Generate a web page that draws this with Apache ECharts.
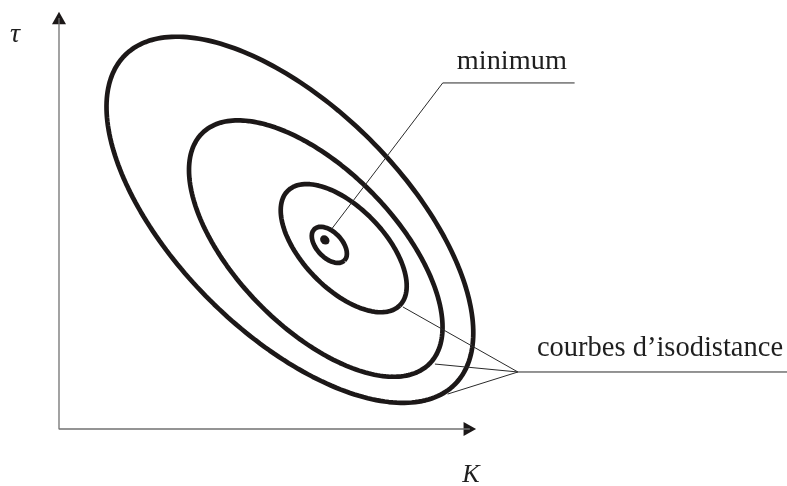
<!DOCTYPE html>
<html>
<head>
<meta charset="utf-8">
<script src="https://cdn.jsdelivr.net/npm/echarts@6/dist/echarts.min.js"></script>
<style>
  html, body { margin: 0; padding: 0; background: #fff; }
  #chart { width: 787px; height: 486px; }
</style>
</head>
<body>
<div id="chart"></div>
<script>
// Iso-distance contours around the (K, tau) minimum, in axis units.
const contourNames = ['c1', 'c2', 'c3', 'c4'];
const centerK   = [5.62, 6.25, 6.93, 6.58];
const centerTau = [5.09, 4.39, 4.40, 4.48];
const semiMajor = [5.67, 3.94, 1.95, 0.53];
const semiMinor = [2.76, 1.93, 0.99, 0.31];
const tiltDeg   = [-44.9, -45.5, -45.8, -46.7];

// Location of the minimum
const minimumPoint = [6.47, 4.60];

// Leader line to the "minimum" label
const minimumLeaderK   = [6.64, 9.34, 12.55];
const minimumLeaderTau = [4.87, 8.42, 8.42];

// Leader lines to the "courbes d'isodistance" label (contour end, hub)
const isoLeaderStartK   = [8.37, 9.15, 9.46];
const isoLeaderStartTau = [2.97, 1.58, 0.85];
const isoHub = [11.17, 1.387];
const isoBaseEndK = 17.72;

// Drawn length of the K and tau axes (arrow heads sit at these ends)
const axisLengthK = 10;
const axisLengthTau = 10;
// Full extent of the plotting area in K
const viewMaxK = 17.72;

function contourPoints(i) {
  const pts = [];
  const phi = tiltDeg[i] * Math.PI / 180;
  const steps = 240;
  for (let s = 0; s <= steps; s++) {
    const t = 2 * Math.PI * s / steps;
    const u = semiMajor[i] * Math.cos(t);
    const v = semiMinor[i] * Math.sin(t);
    pts.push([
      centerK[i] + u * Math.cos(phi) - v * Math.sin(phi),
      centerTau[i] + u * Math.sin(phi) + v * Math.cos(phi)
    ]);
  }
  return pts;
}

const ink = '#1c1818';
const thin = { color: '#2a2a2a', width: 1 };
const series = [];

// Axes
series.push({
  type: 'line', showSymbol: false, silent: true, clip: false,
  data: [[0, axisLengthTau], [0, 0], [axisLengthK, 0]],
  lineStyle: { color: '#727272', width: 1.3 }
});

contourNames.forEach((name, i) => {
  series.push({
    name: name, type: 'line', data: contourPoints(i),
    showSymbol: false, silent: true, clip: false,
    lineStyle: { color: ink, width: 4.7 }
  });
});

series.push({
  type: 'line', showSymbol: false, silent: true, clip: false,
  data: minimumLeaderK.map((k, j) => [k, minimumLeaderTau[j]]),
  lineStyle: thin
});

isoLeaderStartK.forEach((k, j) => {
  series.push({
    type: 'line', showSymbol: false, silent: true, clip: false,
    data: [[k, isoLeaderStartTau[j]], isoHub],
    lineStyle: thin
  });
});
series.push({
  type: 'line', showSymbol: false, silent: true, clip: false,
  data: [isoHub, [isoBaseEndK, isoHub[1]]],
  lineStyle: thin
});

series.push({
  type: 'scatter', silent: true, clip: false,
  data: [minimumPoint], symbol: 'circle', symbolSize: [10, 8.5], symbolRotate: -40,
  itemStyle: { color: ink, opacity: 1 }
});

// Arrow heads at the ends of both axes
series.push({
  type: 'scatter', silent: true, clip: false,
  data: [[0, axisLengthTau]], symbol: 'triangle', symbolSize: [14, 12.5],
  itemStyle: { color: ink, opacity: 1 }
});
series.push({
  type: 'scatter', silent: true, clip: false,
  data: [[axisLengthK, 0]], symbol: 'triangle', symbolSize: [14, 12.5], symbolRotate: -90,
  itemStyle: { color: ink, opacity: 1 }
});

const axisHidden = {
  type: 'value', min: 0,
  splitLine: { show: false }, axisTick: { show: false }, axisLabel: { show: false },
  axisLine: { show: false }
};

const chart = echarts.init(document.getElementById('chart'), null, { renderer: 'canvas' });
chart.setOption({
  animation: false,
  backgroundColor: '#ffffff',
  grid: { left: 59, width: 728.3, top: 18, bottom: 57 },
  xAxis: Object.assign({}, axisHidden, { max: viewMaxK }),
  yAxis: Object.assign({}, axisHidden, { max: axisLengthTau }),
  series: series
});

// Text labels, anchored in axis units
const serif = "'Liberation Serif', 'DejaVu Serif', serif";
const textItems = [
  { text: 'minimum', at: [10.95, 8.42], dx: 3, dy: -21, size: 28.3, italic: false, align: 'center' },
  { text: 'courbes d\u2019isodistance', at: [isoHub[0], isoHub[1]], dx: 19, dy: -23, size: 28.5, italic: false, align: 'left' },
  { text: '\u03C4', at: [0, axisLengthTau], dx: -44, dy: 17, size: 28, italic: true, align: 'center' },
  { text: 'K', at: [axisLengthK, 0], dx: 1, dy: 46, size: 26, italic: true, align: 'center' }
];

chart.setOption({
  graphic: textItems.map(t => {
    const p = chart.convertToPixel({ gridIndex: 0 }, t.at);
    return {
      type: 'text', silent: true,
      x: p[0] + t.dx, y: p[1] + t.dy,
      style: {
        text: t.text,
        font: (t.italic ? 'italic ' : '') + t.size + 'px ' + serif,
        fill: '#1f1f1f',
        textAlign: t.align,
        textVerticalAlign: 'middle'
      }
    };
  })
});
</script>
</body>
</html>
